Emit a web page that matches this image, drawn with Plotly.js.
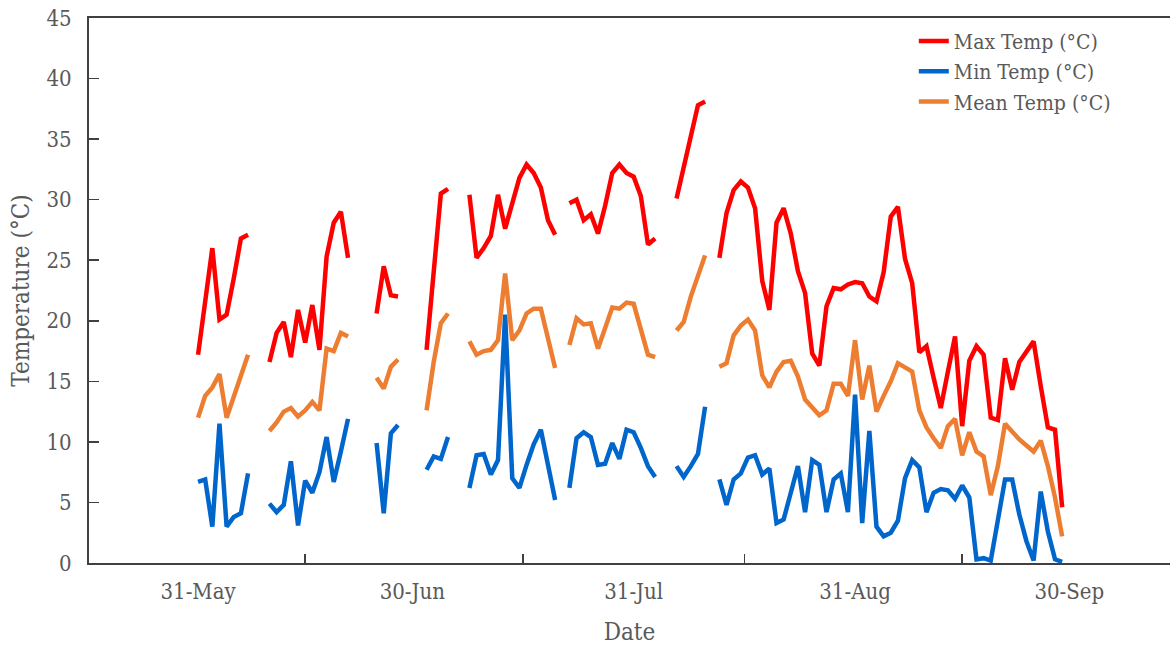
<!DOCTYPE html>
<html>
<head>
<meta charset="utf-8">
<script src="https://cdn.plot.ly/plotly-3.0.1.min.js"></script>
<style>html,body{margin:0;padding:0;background:#fff;}#chart{width:1170px;height:646px;}</style>
</head>
<body>
<div id="chart"></div>
<script>
// First day of the daily record; one value per day, null = no data
const startDate = '2021-05-31';
const dayCount = 122;

const maxTemp = [
  17.2, 21.6, 26.0, 20.1, 20.5, 23.5, 26.8, 27.1, null, null,
  16.6, 19.0, 19.9, 17.0, 20.9, 18.2, 21.3, 17.6, 25.3, 28.1, 29.0, 25.2, null, null, null,
  20.6, 24.5, 22.1, 22.0, null, null, null,
  17.6, 24.0, 30.5, 30.9, null, null,
  30.4, 25.2, 26.0, 27.0, 30.4, 27.6, 29.7, 31.8, 32.9, 32.2, 31.0, 28.3, 27.1, null,
  29.7, 30.0, 28.3, 28.8, 27.2, 29.5, 32.2, 32.9, 32.2, 31.9, 30.3, 26.3, 26.8, null, null,
  30.1, 32.8, 35.3, 37.8, 38.1, null,
  25.2, 28.9, 30.8, 31.5, 31.0, 29.3, 23.3, 20.9, 28.1, 29.3, 27.2, 24.1, 22.3, 17.3, 16.3, 21.2,
  22.7, 22.6, 23.0, 23.2, 23.1, 22.0, 21.6, 24.0, 28.6, 29.4, 25.1, 23.1, 17.4, 17.9, 15.3, 12.8,
  15.8, 18.7, 11.3, 16.7, 17.9, 17.2, 12.0, 11.8, 16.9, 14.3, 16.6, 17.5, 18.3, 14.6, 11.2, 11.0, 4.6
];

const minTemp = [
  6.7, 6.9, 3.0, 11.5, 3.0, 3.8, 4.1, 7.4, null, null,
  4.9, 4.2, 4.8, 8.4, 3.1, 6.8, 5.8, 7.5, 10.4, 6.7, 9.2, 11.9, null, null, null,
  9.9, 4.1, 10.7, 11.4, null, null, null,
  7.7, 8.8, 8.6, 10.4, null, null,
  6.2, 8.9, 9.0, 7.3, 8.5, 20.5, 7.0, 6.2, 8.1, 9.8, 11.0, 8.0, 5.2, null,
  6.2, 10.3, 10.8, 10.4, 8.1, 8.2, 9.9, 8.6, 11.0, 10.8, 9.5, 8.0, 7.1, null, null,
  8.0, 7.1, 8.0, 9.0, 12.9, null,
  6.9, 4.8, 6.9, 7.4, 8.7, 8.9, 7.3, 7.8, 3.3, 3.6, 5.8, 8.0, 4.2, 8.5, 8.1, 4.2,
  6.9, 7.4, 4.2, 13.9, 3.3, 10.9, 3.0, 2.2, 2.5, 3.5, 7.0, 8.5, 7.9, 4.2, 5.8, 6.1,
  6.0, 5.3, 6.4, 5.4, 0.3, 0.4, 0.2, 3.6, 6.9, 6.9, 4.0, 1.8, 0.2, 5.9, 2.6, 0.3, 0.1
];

const meanTemp = [
  12.0, 13.8, 14.5, 15.6, 12.0, 13.8, 15.5, 17.2, null, null,
  10.9, 11.6, 12.5, 12.8, 12.1, 12.6, 13.3, 12.6, 17.7, 17.5, 19.0, 18.7, null, null, null,
  15.3, 14.4, 16.2, 16.8, null, null, null,
  12.6, 16.6, 19.8, 20.6, null, null,
  18.3, 17.2, 17.5, 17.6, 18.4, 23.9, 18.4, 19.2, 20.6, 21.0, 21.0, 18.5, 16.1, null,
  18.0, 20.2, 19.7, 19.8, 17.7, 19.5, 21.1, 21.0, 21.5, 21.4, 19.3, 17.2, 17.0, null, null,
  19.2, 19.9, 22.0, 23.8, 25.4, null,
  16.2, 16.5, 18.8, 19.6, 20.1, 19.2, 15.5, 14.5, 15.8, 16.6, 16.7, 15.4, 13.5, 12.8, 12.2, 12.6,
  14.8, 14.8, 13.8, 18.4, 13.5, 16.3, 12.5, 13.8, 15.0, 16.5, 16.2, 15.8, 12.6, 11.2, 10.3, 9.5,
  11.3, 11.9, 8.9, 10.8, 9.2, 8.8, 5.6, 8.0, 11.5, 10.8, 10.2, 9.7, 9.2, 10.1, 8.0, 5.4, 2.2
];

const seriesNames = ['Max Temp (°C)', 'Min Temp (°C)', 'Mean Temp (°C)'];
const seriesColors = ['#FF0000', '#0066CC', '#ED7D31'];
const labelDates = ['2021-05-31', '2021-06-30', '2021-07-31', '2021-08-31', '2021-09-30'];
const yTicks = [0, 5, 10, 15, 20, 25, 30, 35, 40, 45];

const DAY = 86400000;
const t0 = Date.parse(startDate + 'T00:00:00Z');
const dates = [];
for (let i = 0; i < dayCount; i++) {
  dates.push(new Date(t0 + i * DAY).toISOString().slice(0, 10));
}
// tick marks sit midway between the labelled dates
const labelMs = labelDates.map(d => Date.parse(d + 'T00:00:00Z'));
const tickMarks = [];
for (let i = 0; i < labelMs.length - 1; i++) {
  tickMarks.push(new Date((labelMs[i] + labelMs[i + 1]) / 2).toISOString().slice(0, 19).replace('T', ' '));
}
const xRange = [
  new Date(t0 - 15.27 * DAY).toISOString().slice(0, 19).replace('T', ' '),
  new Date(t0 + 136.1 * DAY).toISOString().slice(0, 19).replace('T', ' ')
];

const FONT = '"DejaVu Serif Condensed", "DejaVu Serif", serif';
const TXT = '#595959';
const AX = '#404040';

const seriesData = [maxTemp, minTemp, meanTemp];
const traces = seriesData.map((vals, k) => ({
  type: 'scatter',
  mode: 'lines',
  x: dates,
  y: vals,
  name: seriesNames[k],
  connectgaps: false,
  line: {color: seriesColors[k], width: 4.5}
}));

const layout = {
  width: 1170,
  height: 646,
  margin: {l: 89, r: 0, t: 18, b: 83},
  paper_bgcolor: '#ffffff',
  plot_bgcolor: '#ffffff',
  font: {family: FONT, size: 22, color: TXT},
  showlegend: true,
  legend: {
    x: 0.763, y: 0.995, xanchor: 'left', yanchor: 'top',
    bgcolor: 'rgba(0,0,0,0)',
    font: {family: FONT, size: 21, color: TXT},
    tracegroupgap: 0
  },
  xaxis: {
    type: 'date',
    range: xRange,
    tickmode: 'array',
    tickvals: labelDates,
    tickformat: '%d-%b',
    ticks: '',
    ticklabelstandoff: 8,
    tickfont: {family: FONT, size: 22, color: TXT},
    showgrid: false,
    zeroline: false,
    showline: true,
    linecolor: AX,
    linewidth: 2,
    mirror: true,
    minor: {
      tickmode: 'array',
      tickvals: tickMarks,
      ticks: 'inside',
      ticklen: 9,
      tickwidth: 1.5,
      tickcolor: AX,
      showgrid: false
    },
    title: {text: 'Date', font: {family: FONT, size: 24, color: TXT}, standoff: 21}
  },
  yaxis: {
    range: [0, 45],
    tickmode: 'array',
    tickvals: yTicks,
    ticks: 'inside',
    ticklen: 10,
    tickwidth: 1.5,
    tickcolor: AX,
    ticklabelstandoff: 11,
    tickfont: {family: FONT, size: 22, color: TXT},
    showgrid: false,
    zeroline: false,
    showline: true,
    linecolor: AX,
    linewidth: 2,
    title: {text: 'Temperature (°C)', font: {family: FONT, size: 24, color: TXT}, standoff: 10}
  }
};

Plotly.newPlot('chart', traces, layout, {staticPlot: true, displayModeBar: false});
</script>
</body>
</html>
